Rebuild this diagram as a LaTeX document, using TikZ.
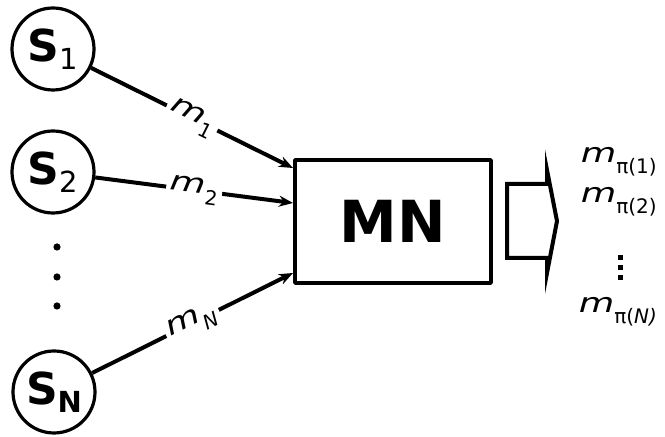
\documentclass[tikz,border=0pt]{standalone}
\usepackage{fontspec}
\setmainfont{DejaVu Sans}
\newfontfamily\wideit[FakeStretch=1.35]{DejaVu Sans Oblique}
\usetikzlibrary{arrows.meta}
\newcommand{\sidx}[1]{\raisebox{-0.19em}{\fontsize{14.5}{16}\selectfont\mdseries #1}}
\newcommand{\midx}[1]{\raisebox{-0.4em}{\fontsize{10}{12}\selectfont #1}}
\newcommand{\mvar}{{\wideit m}}

\begin{document}
\begin{tikzpicture}[x=0.5pt,y=-0.5pt,line join=round,line cap=round,>={Stealth[length=7pt,width=5.5pt]},thick]
	\tikzset{src/.style={circle,draw,line width=1.6pt,minimum size=41pt,inner sep=0pt,font=\fontsize{22}{26}\selectfont\bfseries},
		mnbox/.style={draw,line width=2.2pt,minimum width=97.8pt,minimum height=61.3pt,inner sep=0pt,font=\fontsize{29}{33}\selectfont\bfseries},
		msg/.style={midway,sloped,fill=white,inner sep=2pt,font=\fontsize{13.5}{15}\selectfont},
		outmsg/.style={anchor=base west,inner sep=0pt,font=\fontsize{13.5}{15}\selectfont},
		edge/.style={->,line width=2pt,line cap=butt}}
	\useasboundingbox (0,0) rectangle (665,437);
	\node[src] (s1) at (53,49) {S\sidx{1}};
	\node[src] (s2) at (53,172) {S\sidx{2}};
	\node[src] (sN) at (54,392) {S\sidx{\bfseries N}};
	\foreach \y in {247,277,306}
	\fill (57,\y) circle (1.8pt);
	\node[mnbox] (mn) at (393,221.5) {MN};
	\draw[edge] (s1) -- ([yshift=26.75pt]mn.west) node[msg] {\mvar\midx{1}};
	\draw[edge] (s2) -- ([yshift=9.25pt]mn.west) node[msg] {\mvar\midx{2}};
	\draw[edge] (sN) -- ([yshift=-25.75pt]mn.west) node[msg] {\mvar\midx{\itshape N}};
	\draw[line width=2pt,line join=miter,miter limit=25] (507,184)--(547,184)--(547,170)--(557,221)--(547,273)--(547,258)--(507,258)--cycle;
	\node[outmsg] (p1) at (580,163) {\mvar\midx{π(1)}};
	\node[outmsg] (p2) at (580,203) {\mvar\midx{π(2)}};
	\node[outmsg] (pN) at (578,313) {\mvar\midx{π(\itshape N\/)}};
	\foreach \y in {255,265,275}
	\fill (618,\y) rectangle +(5,5);
\end{tikzpicture}
\end{document}
